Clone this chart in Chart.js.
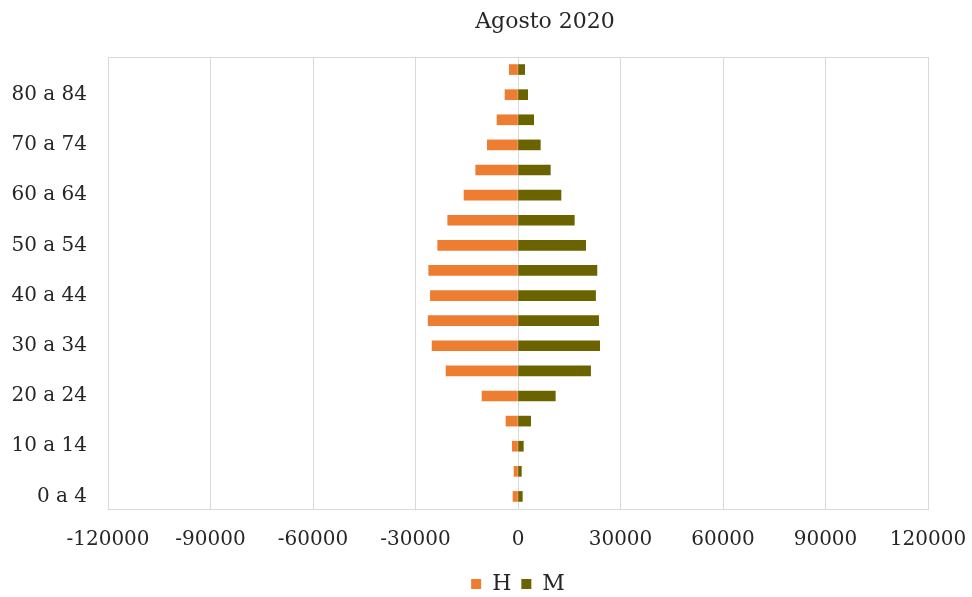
<!DOCTYPE html>
<html>
<head>
<meta charset="utf-8">
<script src="https://cdn.jsdelivr.net/npm/chart.js@4/dist/chart.umd.min.js"></script>
<style>
  html, body { margin: 0; padding: 0; background: #ffffff; }
  #wrap { width: 972px; height: 597px; }
</style>
</head>
<body>
<div id="wrap"><canvas id="c" width="972" height="597"></canvas></div>
<script>
// Age groups, youngest first
const ageGroups = [
  '0 a 4', '5 a 9', '10 a 14', '15 a 19', '20 a 24', '25 a 29',
  '30 a 34', '35 a 39', '40 a 44', '45 a 49', '50 a 54', '55 a 59',
  '60 a 64', '65 a 69', '70 a 74', '75 a 79', '80 a 84', '85 y más'
];
// Men, drawn to the left (negative values)
const hombres = [
  -1460, -1170, -1660, -3510, -10530, -21060,
  -25150, -26300, -25640, -26130, -23500, -20570,
  -15800, -12380, -8970, -6140, -3800, -2540
];
// Women, drawn to the right
const mujeres = [
  1270, 980, 1560, 3700, 10920, 21250,
  23900, 23600, 22700, 23100, 19800, 16480,
  12580, 9460, 6530, 4580, 2830, 1950
];
const xTicks = [-120000, -90000, -60000, -30000, 0, 30000, 60000, 90000, 120000];
const titleText = 'Agosto 2020';

const FONT = "'DejaVu Serif', serif";
const TEXT = '#262626';
const GRID = '#d9d9d9';

// Title drawn above the plot, plus the top edge of the plot frame
const framePlugin = {
  id: 'frame',
  afterDraw(chart) {
    const { ctx, chartArea } = chart;
    ctx.save();
    ctx.strokeStyle = GRID;
    ctx.lineWidth = 1;
    ctx.beginPath();
    ctx.moveTo(chartArea.left, Math.round(chartArea.top) + 0.5);
    ctx.lineTo(chartArea.right, Math.round(chartArea.top) + 0.5);
    ctx.stroke();
    ctx.fillStyle = TEXT;
    ctx.font = "22px " + FONT;
    ctx.textAlign = 'center';
    ctx.textBaseline = 'middle';
    ctx.fillText(titleText, 545, 22);
    ctx.restore();
  }
};

new Chart(document.getElementById('c'), {
  type: 'bar',
  data: {
    labels: ageGroups,
    datasets: [
      { label: 'H', data: hombres, backgroundColor: '#ED7D31', barThickness: 10 },
      { label: 'M', data: mujeres, backgroundColor: '#6B6300', barThickness: 10 }
    ]
  },
  options: {
    indexAxis: 'y',
    responsive: false,
    animation: false,
    layout: { padding: { left: 0, right: 44, top: 57, bottom: -8 } },
    plugins: {
      title: { display: false },
      tooltip: { enabled: false },
      legend: {
        position: 'bottom',
        fullSize: false,
        labels: {
          boxWidth: 10,
          boxHeight: 10,
          padding: 10,
          color: TEXT,
          font: { family: FONT, size: 22 }
        }
      }
    },
    scales: {
      x: {
        stacked: true,
        min: -120000,
        max: 120000,
        afterBuildTicks(scale) { scale.ticks = xTicks.map(v => ({ value: v })); },
        afterFit(scale) {
          scale.height = 54;
          scale.paddingLeft = 0;
          scale.paddingRight = 0;
        },
        grid: { color: GRID, lineWidth: 1, drawTicks: false },
        border: { color: GRID },
        ticks: {
          color: TEXT,
          padding: 19,
          maxRotation: 0,
          font: { family: FONT, size: 20 },
          callback: v => String(v)
        }
      },
      y: {
        stacked: true,
        reverse: true,
        afterFit(scale) { scale.width = 108; },
        grid: { display: false, drawTicks: false },
        border: { color: GRID },
        ticks: {
          color: TEXT,
          padding: 21,
          autoSkip: false,
          font: { family: FONT, size: 20 },
          callback: (v, i) => (i % 2 === 0 ? ageGroups[i] : '')
        }
      }
    }
  },
  plugins: [framePlugin]
});
</script>
</body>
</html>
